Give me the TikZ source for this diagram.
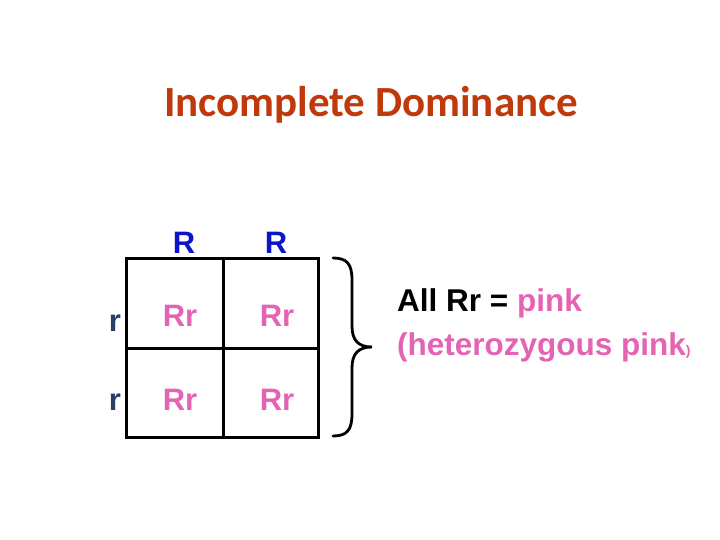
\documentclass[tikz,border=0pt]{standalone}
\usepackage{fontspec}
\setmainfont{Liberation Sans}
\newfontfamily\titlefont{Carlito}
\usetikzlibrary{positioning}
\definecolor{ctitle}{HTML}{C0390B}
\definecolor{cblue}{HTML}{0A14C8}
\definecolor{cnavy}{HTML}{2A3F66}
\definecolor{cpink}{HTML}{E463B2}
\tikzset{
  every picture/.style={x=1pt, y=-1pt},
  title/.style={font=\titlefont\bfseries\fontsize{43}{46}\selectfont, text=ctitle},
  allele/.style={font=\bfseries\fontsize{31}{32}\selectfont, text=#1, inner sep=0pt},
  allele/.default=cblue,
  geno/.style={font=\bfseries\fontsize{31}{32}\selectfont, text=cpink, inner sep=0pt},
  note/.style={font=\bfseries\fontsize{31.5}{44}\selectfont, align=left, anchor=west, inner sep=0pt},
  grid/.style={line width=3pt, draw=black},
}
\begin{document}
\begin{tikzpicture}
  \useasboundingbox (0,0) rectangle (720,540);
  \node[title] (head) at (371,105) {Incomplete Dominance};
  % punnett square
  \coordinate (nw) at (126,258);
  \coordinate (se) at (318,437);
  \draw[grid] (nw) rectangle (se);
  \draw[grid] (223,258) -- (223,437);
  \draw[grid] (126,348) -- (318,348);
  % parent alleles
  \node[allele] (c1) at (184,243) {R};
  \node[allele] (c2) at (276,243) {R};
  \node[allele=cnavy] (r1) at (115,323) {r};
  \node[allele=cnavy] (r2) at (115,402) {r};
  % offspring
  \foreach \x/\n in {180/1, 277/2} {
    \node[geno] (a\n) at (\x,316) {Rr};
    \node[geno] (b\n) at (\x,400) {Rr};
  }
  % brace
  \draw[line width=2.8pt, line cap=round]
    (333,258) .. controls (347,258) and (352,264) .. (352,280)
    -- (352,326) .. controls (352,340) and (358,347) .. (372,347)
    .. controls (358,347) and (352,354) .. (352,368)
    -- (352,414) .. controls (352,430) and (347,436) .. (333,436);
  \node[note] (res) at (397,325) {All Rr = \textcolor{cpink}{pink}\\
    \textcolor{cpink}{(heterozygous pink{\fontsize{14}{16}\selectfont)}}};
\end{tikzpicture}
\end{document}
